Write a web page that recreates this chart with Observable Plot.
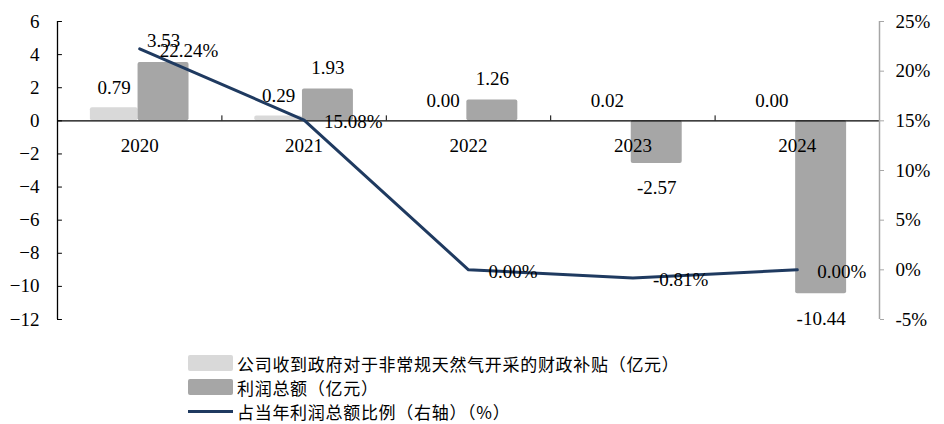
<!DOCTYPE html>
<html><head><meta charset="utf-8">
<script src="https://cdn.jsdelivr.net/npm/d3@7"></script>
<script src="https://cdn.jsdelivr.net/npm/@observablehq/plot@0.6"></script>
<style>
body{margin:0;background:#fff;width:944px;height:424px;overflow:hidden;}
#chart{position:absolute;left:0;top:0;}
#chart svg text{font-family:"Liberation Serif","Times New Roman",serif;}
#legend{position:absolute;left:188px;top:351px;font-family:"Noto Sans CJK SC",sans-serif;font-size:17px;letter-spacing:0.7px;color:#000;}
.row{display:flex;align-items:center;height:24.3px;}
.sw{width:45px;height:16px;margin-right:4px;border-radius:2px;}
.ln{width:45px;height:3px;margin-right:4px;}
</style></head><body>
<div id="chart"></div>
<div id="legend"></div>
<script>
const years = ["2020", "2021", "2022", "2023", "2024"];
const subsidy = [0.79, 0.29, 0.00, 0.02, 0.00];
const profit = [3.53, 1.93, 1.26, -2.57, -10.44];
const ratio = [22.24, 15.08, 0.00, -0.81, 0.00];
const leftTicks = [-12, -10, -8, -6, -4, -2, 0, 2, 4, 6];
const rightTicks = [-5, 0, 5, 10, 15, 20, 25];
const seriesNames = ["公司收到政府对于非常规天然气开采的财政补贴（亿元）", "利润总额（亿元）", "占当年利润总额比例（右轴）（%）"];
const colors = ["#d9d9d9", "#a6a6a6", "#1f3a60"];

const leftDomain = [-12, 6];
const rightDomain = [-5, 25];
const toLeft = p => leftDomain[0] + (p - rightDomain[0]) * (leftDomain[1] - leftDomain[0]) / (rightDomain[1] - rightDomain[0]);
const fromLeft = v => rightDomain[0] + (v - leftDomain[0]) * (rightDomain[1] - rightDomain[0]) / (leftDomain[1] - leftDomain[0]);

const rows = years.map((y, i) => ({year: y, c: i + 0.5, subsidy: subsidy[i], profit: profit[i], ratio: ratio[i], r: toLeft(ratio[i])}));
const boundaries = years.map((y, i) => i + 1);
const ff = "'Liberation Serif', 'Times New Roman', serif";

const chart = Plot.plot({
  width: 944, height: 336,
  marginLeft: 57, marginRight: 65, marginTop: 21, marginBottom: 17,
  x: {domain: [0, years.length], axis: null},
  y: {domain: leftDomain, axis: null},
  style: "font-family: 'Liberation Serif', 'Times New Roman', serif; font-size: 19px; color: #000; background: #fff;",
  marks: [
    Plot.rect(rows, {x1: d => d.c - 0.30, x2: d => d.c - 0.01, y1: 0, y2: "subsidy", fill: colors[0], rx: 2}),
    Plot.rect(rows, {x1: d => d.c - 0.01, x2: d => d.c + 0.30, y1: 0, y2: "profit", fill: colors[1], rx: 2}),
    Plot.ruleY([0], {x1: 0, x2: years.length, stroke: "#000", strokeWidth: 1.3}),
    Plot.ruleX(boundaries, {y1: 0, y2: 0.3, stroke: "#000"}),
    Plot.ruleX([0], {y1: leftDomain[0], y2: leftDomain[1], stroke: "#000", strokeWidth: 1.3}),
    Plot.ruleY(leftTicks, {x1: 0, x2: 0.03, stroke: "#000"}),
    Plot.ruleX([years.length], {y1: leftDomain[0], y2: leftDomain[1], stroke: "#a6a6a6", strokeWidth: 1.5}),
    Plot.axisY(leftTicks, {anchor: "left", tickSize: 0, tickPadding: 18, fontSize: 19, fontFamily: ff, fill: "#000"}),
    Plot.axisY(rightTicks.map(toLeft), {anchor: "right", tickSize: 4, tickPadding: 12, stroke: "#a6a6a6", fill: "#000", fontSize: 19, fontFamily: ff,
      tickFormat: v => Math.round(fromLeft(v)) + "%"}),
    Plot.text(rows, {x: "c", y: 0, text: "year", dy: 25, fontSize: 19, fontFamily: ff, fill: "#000"}),
    Plot.text(rows, {x: d => d.c - 0.155, y: "subsidy", text: d => d.subsidy.toFixed(2), dy: -20, fontSize: 19, fontFamily: ff, fill: "#000"}),
    Plot.text(rows.filter(d => d.profit >= 0), {x: d => d.c + 0.145, y: "profit", text: d => d.profit.toFixed(2), dy: -21, fontSize: 19, fontFamily: ff, fill: "#000"}),
    Plot.text(rows.filter(d => d.profit < 0), {x: d => d.c + 0.145, y: "profit", text: d => d.profit.toFixed(2), dy: 25, fontSize: 19, fontFamily: ff, fill: "#000"}),
    Plot.line(rows, {x: "c", y: "r", stroke: colors[2], strokeWidth: 3}),
    Plot.text(rows, {x: "c", y: "r", text: d => d.ratio.toFixed(2) + "%", textAnchor: "start", dx: 20, dy: 2, fontSize: 19, fontFamily: ff, fill: "#000"})
  ]
});
document.getElementById("chart").appendChild(chart);

const legend = document.getElementById("legend");
seriesNames.forEach((name, i) => {
  const row = document.createElement("div");
  row.className = "row";
  const sw = document.createElement("div");
  sw.className = i < 2 ? "sw" : "ln";
  sw.style.background = colors[i];
  const t = document.createElement("span");
  t.textContent = name;
  row.appendChild(sw); row.appendChild(t);
  legend.appendChild(row);
});
</script>
</body></html>
